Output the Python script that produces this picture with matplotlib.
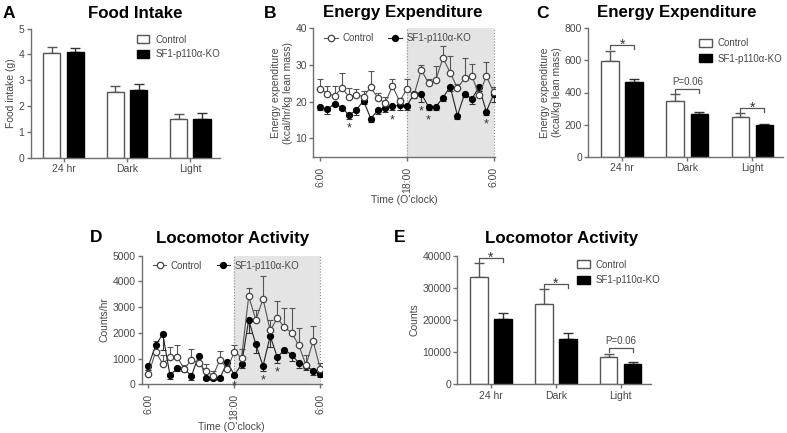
import numpy as np
import matplotlib
matplotlib.use('Agg')
import matplotlib.pyplot as plt
from matplotlib.patches import Patch

plt.rcParams['font.family'] = ['Liberation Sans', 'DejaVu Sans']

# ---- data ----
groups = ['24 hr', 'Dark', 'Light']
legend_names = ['Control', 'SF1-p110\u03b1-KO']

# A: food intake (g)
food_ctrl = [4.04, 2.56, 1.49]
food_ctrl_err = [0.24, 0.22, 0.19]
food_ko = [4.08, 2.61, 1.49]
food_ko_err = [0.16, 0.23, 0.23]

# B: energy expenditure, hourly (kcal/hr/kg lean mass)
hours = list(range(25))
ee_ctrl = [23.5, 22.2, 21.6, 23.7, 21.4, 21.9, 21.4, 23.9, 21.0, 19.6, 24.3, 20.1, 23.4,
           21.9, 28.7, 25.0, 26.0, 31.9, 27.9, 23.7, 26.4, 27.0, 21.8, 27.0, 22.6]
ee_ctrl_err = [2.8, 2.2, 2.6, 4.1, 2.2, 1.5, 1.5, 4.4, 1.5, 1.8, 1.8, 1.0, 2.7,
               0.8, 1.4, 1.2, 3.6, 3.4, 4.5, 1.0, 5.4, 3.2, 1.0, 3.8, 1.5]
ee_ko = [18.6, 17.9, 19.5, 18.4, 16.3, 17.7, 20.3, 15.4, 17.7, 18.4, 18.8, 19.0, 18.8,
         22.2, 22.2, 18.6, 18.6, 21.1, 24.1, 16.2, 22.2, 20.8, 24.0, 17.3, 22.0]
ee_ko_err = [1.0, 1.3, 0.8, 0.8, 0.9, 1.2, 1.0, 0.9, 1.0, 1.2, 1.2, 1.3, 1.0,
             1.2, 2.3, 1.0, 0.8, 1.0, 1.3, 0.8, 1.0, 1.3, 1.0, 1.0, 2.0]
ee_stars = [4, 10, 14, 15, 23]

# C: energy expenditure (kcal/kg lean mass)
eec_ctrl = [599, 349, 249]
eec_ctrl_err = [62, 40, 21]
eec_ko = [464, 266, 195]
eec_ko_err = [18, 11, 7]
eec_marks = ['*', 'P=0.06', '*']

# D: locomotor activity, hourly (counts/hr)
la_ctrl = [390, 1270, 790, 1075, 1060, 600, 960, 820, 518, 330, 960, 595, 1268,
           1040, 3420, 2500, 3320, 2100, 2565, 2215, 2006, 1520, 745, 1680, 600]
la_ctrl_err = [150, 430, 350, 390, 480, 150, 415, 280, 260, 200, 325, 150, 260,
               320, 320, 390, 880, 415, 690, 765, 945, 660, 380, 580, 230]
la_ko = [720, 1520, 1950, 350, 615, 600, 323, 1100, 256, 256, 256, 860, 360,
         780, 2500, 1550, 712, 1878, 1050, 1350, 1140, 842, 712, 531, 400]
la_ko_err = [150, 300, 600, 150, 100, 100, 150, 250, 100, 100, 100, 150, 60,
             150, 500, 350, 200, 420, 230, 150, 250, 200, 150, 150, 100]
la_stars = [12, 16, 18]

# E: locomotor activity (counts)
lac_ctrl = [33470, 24970, 8500]
lac_ctrl_err = [4150, 4560, 930]
lac_ko = [20200, 13990, 6320]
lac_ko_err = [2070, 1870, 620]
lac_marks = ['*', '*', 'P=0.06']

W, H = 787, 433
AX_C = '#707070'
TXT_C = '#484848'

fig = plt.figure(figsize=(W / 100, H / 100), dpi=100)


def axes_px(left, right, top, bottom):
    return fig.add_axes([left / W, 1 - bottom / H, (right - left) / W, (bottom - top) / H])


def style(ax):
    for s in ['top', 'right']:
        ax.spines[s].set_visible(False)
    for s in ['left', 'bottom']:
        ax.spines[s].set_color(AX_C)
        ax.spines[s].set_linewidth(1.0)
    ax.tick_params(direction='out', length=3, width=1, color=AX_C, labelsize=7.5,
                   labelcolor=TXT_C, pad=1.5)


def bar_panel(ax, ctrl, cerr, ko, kerr, ymax, yticks, ylabel, marks=None, leg_anchor=(0.55, 1.0),
              leg_space=0.55):
    x = np.arange(3)
    w, off = 0.27, 0.185
    ax.bar(x - off, ctrl, w, color='white', edgecolor='#555555', lw=1.0, zorder=2)
    ax.bar(x + off, ko, w, color='black', edgecolor='black', lw=1.0, zorder=2)
    ax.errorbar(x - off, ctrl, yerr=[np.zeros(3), cerr], fmt='none', ecolor='#555555',
                elinewidth=1, capsize=3.5, capthick=1, zorder=1)
    ax.errorbar(x + off, ko, yerr=[np.zeros(3), kerr], fmt='none', ecolor='#333333',
                elinewidth=1, capsize=3.5, capthick=1, zorder=1)
    if marks:
        pad, tick = 0.043 * ymax, 0.03 * ymax
        for i, m in enumerate(marks):
            yb = max(ctrl[i] + cerr[i], ko[i] + kerr[i]) + pad
            ax.plot([i - off, i - off, i + off, i + off], [yb - tick, yb, yb, yb - tick],
                    color='#555555', lw=0.9, clip_on=False)
            if m == '*':
                ax.annotate(m, (i, yb), xytext=(0, -2.5), textcoords='offset points',
                            ha='center', va='baseline', fontsize=10, color='#333333',
                            annotation_clip=False)
            else:
                ax.annotate(m, (i, yb), xytext=(0, 1.5), textcoords='offset points',
                            ha='center', va='bottom', fontsize=7, color=TXT_C,
                            annotation_clip=False)
    ax.set_xlim(-0.52, 2.47)
    ax.set_ylim(0, ymax)
    ax.set_yticks(yticks)
    ax.set_xticks(x)
    ax.set_xticklabels(groups)
    ax.set_ylabel(ylabel, fontsize=7.5, color=TXT_C, labelpad=2)
    style(ax)
    handles = [Patch(facecolor='white', edgecolor='#555555', lw=1.0),
               Patch(facecolor='black', edgecolor='black', lw=1.0)]
    ax.legend(handles, legend_names, loc='upper left', bbox_to_anchor=leg_anchor, frameon=False,
              fontsize=7, handlelength=1.3, handleheight=0.9, handletextpad=0.6,
              labelspacing=leg_space, borderaxespad=0, labelcolor=TXT_C)


def time_panel(ax, ctrl, cerr, ko, kerr, ylim, yticks, ylabel, stars):
    zeros = np.zeros(len(hours))
    ax.axvspan(12, 24, color='#e4e4e4', lw=0, zorder=0)
    for xv in (12, 24):
        ax.axvline(xv, color='#8a8a8a', ls=':', lw=0.8, zorder=1)
    ax.errorbar(hours, ctrl, yerr=[zeros, cerr], fmt='none', ecolor='#555555',
                elinewidth=0.8, capsize=2, capthick=0.8, zorder=2)
    ax.errorbar(hours, ko, yerr=[kerr, zeros], fmt='none', ecolor='#333333',
                elinewidth=0.8, capsize=2, capthick=0.8, zorder=2)
    ax.plot(hours, ctrl, '-o', color='#555555', mfc='white', mec='#444444', ms=4.6,
            lw=0.8, mew=0.9, label=legend_names[0], zorder=4)
    ax.plot(hours, ko, '-o', color='#222222', mfc='black', mec='black', ms=4.2,
            lw=0.8, label=legend_names[1], zorder=3)
    for h in stars:
        ax.annotate('*', (h, ko[h] - kerr[h]), xytext=(0, -9), textcoords='offset points',
                    ha='center', va='baseline', fontsize=9, color='#333333', zorder=5)
    ax.set_xlim(-0.95, 24.2)
    ax.set_ylim(*ylim)
    ax.set_yticks(yticks)
    ax.set_xticks([0, 12, 24])
    ax.set_xticklabels(['6:00', '18:00', '6:00'], rotation=90)
    ax.set_xlabel("Time (O'clock)", fontsize=7.5, color=TXT_C, labelpad=1.5)
    ax.set_ylabel(ylabel, fontsize=7.5, color=TXT_C, labelpad=2)
    style(ax)
    ax.tick_params(axis='x', pad=4)
    ax.legend(loc='upper left', bbox_to_anchor=(0.04, 0.99), ncol=2, frameon=False, fontsize=7,
              handlelength=1.4, handletextpad=0.45, columnspacing=1.5, borderaxespad=0,
              labelcolor=TXT_C)


def titles(ax, letter, title, letter_x, title_x, y):
    fig.text(letter_x / W, 1 - y / H, letter, fontsize=12.5, fontweight='bold', va='center')
    fig.text(title_x / W, 1 - y / H, title, fontsize=12.2, fontweight='bold', va='center', ha='center')


# A
axA = axes_px(30.7, 220, 28.7, 157.7)
bar_panel(axA, food_ctrl, food_ctrl_err, food_ko, food_ko_err, 5, range(6),
          'Food intake (g)', leg_anchor=(0.54, 0.985), leg_space=0.45)
titles(axA, 'A', 'Food Intake', 3, 135, 13)

# B
axB = axes_px(313.3, 495, 28.3, 156.7)
time_panel(axB, ee_ctrl, ee_ctrl_err, ee_ko, ee_ko_err, (5, 40), [10, 20, 30, 40],
           'Energy expenditure\n(kcal/hr/kg lean mass)', ee_stars)
titles(axB, 'B', 'Energy Expenditure', 264, 403, 13)

# C
axC = axes_px(588.3, 783, 28.3, 156.7)
bar_panel(axC, eec_ctrl, eec_ctrl_err, eec_ko, eec_ko_err, 800, range(0, 801, 200),
          'Energy expenditure\n(kcal/kg lean mass)', eec_marks, leg_anchor=(0.55, 0.955),
          leg_space=0.6)
titles(axC, 'C', 'Energy Expenditure', 536, 677, 13)

# D
axD = axes_px(141.7, 321.7, 255.7, 384.3)
time_panel(axD, la_ctrl, la_ctrl_err, la_ko, la_ko_err, (0, 5000), range(0, 5001, 1000),
           'Counts/hr', la_stars)
titles(axD, 'D', 'Locomotor Activity', 90, 233, 238)

# E
axE = axes_px(457.3, 651, 255.7, 384.3)
bar_panel(axE, lac_ctrl, lac_ctrl_err, lac_ko, lac_ko_err, 40000, range(0, 40001, 10000),
          'Counts', lac_marks, leg_anchor=(0.6, 1.0), leg_space=0.55)
titles(axE, 'E', 'Locomotor Activity', 394, 562, 238)

fig.savefig('out.png', dpi=100)
